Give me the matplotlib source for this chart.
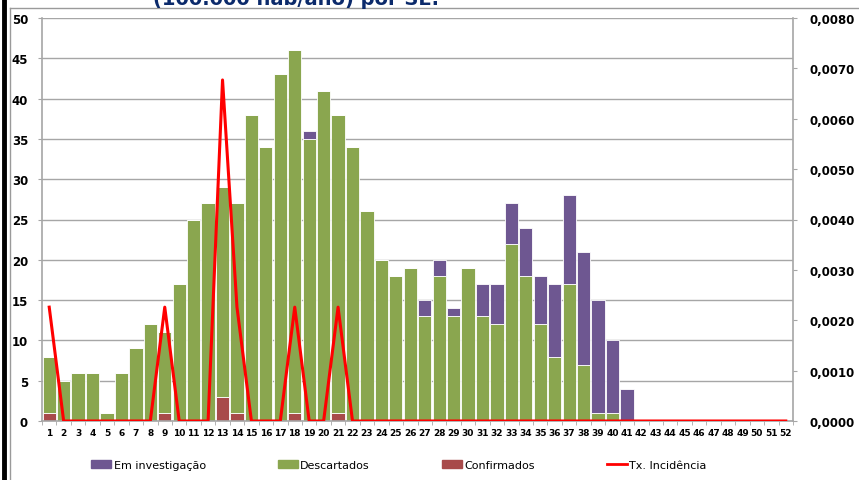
import numpy as np
import matplotlib.pyplot as plt
from matplotlib.lines import Line2D
from matplotlib.ticker import FuncFormatter

weeks = np.arange(1, 53)

confirmados = [1, 0, 0, 0, 0, 0, 0, 0, 1, 0, 0, 0, 3, 1, 0, 0, 0, 1, 0, 0,
               1, 0, 0, 0, 0, 0, 0, 0, 0, 0, 0, 0, 0, 0, 0, 0, 0, 0, 0, 0,
               0, 0, 0, 0, 0, 0, 0, 0, 0, 0, 0, 0]
descartados = [7, 5, 6, 6, 1, 6, 9, 12, 10, 17, 25, 27, 26, 26, 38, 34, 43, 45, 35, 41,
               37, 34, 26, 20, 18, 19, 13, 18, 13, 19, 13, 12, 22, 18, 12, 8, 17, 7, 1, 1,
               0, 0, 0, 0, 0, 0, 0, 0, 0, 0, 0, 0]
investigacao = [0, 0, 0, 0, 0, 0, 0, 0, 0, 0, 0, 0, 0, 0, 0, 0, 0, 0, 1, 0,
                0, 0, 0, 0, 0, 0, 2, 2, 1, 0, 4, 5, 5, 6, 6, 9, 11, 14, 14, 9,
                4, 0, 0, 0, 0, 0, 0, 0, 0, 0, 0, 0]
incidencia = [0.00226, 0, 0, 0, 0, 0, 0, 0, 0.00226, 0, 0, 0, 0.00677, 0.00226, 0, 0, 0, 0.00226, 0, 0,
              0.00226, 0, 0, 0, 0, 0, 0, 0, 0, 0, 0, 0, 0, 0, 0, 0, 0, 0, 0, 0,
              0, 0, 0, 0, 0, 0, 0, 0, 0, 0, 0, 0]

GREEN = '#8AA64F'
PURPLE = '#6E5791'
DRED = '#A84A4A'
GRIDC = '#A6A6A6'

fig = plt.figure(figsize=(8.59, 4.81), dpi=100)
ax = fig.add_axes([42 / 859, 1 - 422 / 481, 751 / 859, 403 / 481])

conf = np.array(confirmados)
desc = np.array(descartados)
inv = np.array(investigacao)
w = 0.92
ax.bar(weeks, conf, w, color=DRED, edgecolor='white', linewidth=0.6, zorder=2)
ax.bar(weeks, desc, w, bottom=conf, color=GREEN, edgecolor='white', linewidth=0.6, zorder=2)
ax.bar(weeks, inv, w, bottom=conf + desc, color=PURPLE, edgecolor='white', linewidth=0.6, zorder=2)

ax.set_xlim(0.5, 52.5)
ax.set_ylim(0, 50)
ax.set_yticks(range(0, 51, 5))
ax.yaxis.grid(True, color=GRIDC, linewidth=1.0, zorder=0)
ax.set_axisbelow(True)
ax.set_xticks(weeks)
ax.set_xticks(np.arange(0.5, 53, 1), minor=True)
ax.tick_params(axis='x', which='major', length=0, labelsize=6.5, pad=5)
ax.tick_params(axis='x', which='minor', length=3, color=GRIDC)
ax.tick_params(axis='y', length=3, color=GRIDC, labelsize=8.5, pad=7)
for lab in ax.get_xticklabels() + ax.get_yticklabels():
    lab.set_fontweight('bold')
for s in ['top', 'right']:
    ax.spines[s].set_visible(False)
for s in ['left', 'bottom']:
    ax.spines[s].set_color(GRIDC)
    ax.spines[s].set_linewidth(1.2)

ax2 = ax.twinx()
ax2.plot(weeks, incidencia, color='#FF0000', linewidth=2.2, zorder=3)
ax2.set_ylim(0, 0.008)
ax2.set_yticks(np.arange(0, 0.0081, 0.001))
ax2.yaxis.set_major_formatter(FuncFormatter(lambda v, p: f'{v:.4f}'.replace('.', ',')))
ax2.tick_params(axis='y', length=3, color=GRIDC, labelsize=8.5, pad=9)
for lab in ax2.get_yticklabels():
    lab.set_fontweight('bold')
for s in ['top', 'left', 'bottom']:
    ax2.spines[s].set_visible(False)
ax2.spines['right'].set_color(GRIDC)
ax2.spines['right'].set_linewidth(1.2)

handles = [plt.Rectangle((0, 0), 1, 1, color=PURPLE),
           plt.Rectangle((0, 0), 1, 1, color=GREEN),
           plt.Rectangle((0, 0), 1, 1, color=DRED),
           Line2D([0], [0], color='#FF0000', linewidth=2)]
labels = ['Em investigação', 'Descartados', 'Confirmados', 'Tx. Incidência']
fig.legend(handles, labels, loc='center', bbox_to_anchor=(399 / 859, 1 - 466 / 481),
           ncol=4, frameon=False, fontsize=8, handlelength=1.8, handleheight=0.7,
           handletextpad=0.2, columnspacing=6.5)

# partially visible title at the top edge
fig.text(0.345, 1 - 5 / 481, '(100.000 hab/ano) por SE.', ha='center', va='baseline',
         fontsize=14, fontweight='bold', color='#0B2A6B')

# frame lines around the chart
fig.add_artist(Line2D([10 / 859, 1], [1 - 9 / 481, 1 - 9 / 481], color='#9A9A9A', linewidth=1))
fig.add_artist(Line2D([10 / 859, 10 / 859], [0, 1 - 9 / 481], color='#9A9A9A', linewidth=1))
fig.add_artist(Line2D([4 / 859, 4 / 859], [0, 1], color='black', linewidth=3.5))

fig.savefig('out.png', dpi=100)
